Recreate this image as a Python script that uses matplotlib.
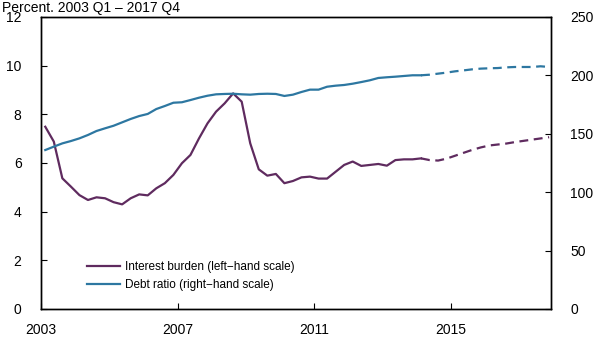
import numpy as np
import matplotlib
matplotlib.use("Agg")
import matplotlib.pyplot as plt

plt.rcParams['font.family'] = ['Liberation Sans', 'DejaVu Sans']

# Quarterly data, 2003 Q1 - 2017 Q4 (observed through 2014 Q1, projected after)
interest_burden = [
    7.49, 6.88, 5.37, 5.03,   # 2003
    4.68, 4.48, 4.59, 4.55,   # 2004
    4.39, 4.30, 4.55, 4.71,   # 2005
    4.67, 4.96, 5.17, 5.51,   # 2006
    5.99, 6.33, 7.01, 7.63,   # 2007
    8.11, 8.45, 8.86, 8.52,   # 2008
    6.81, 5.74, 5.48, 5.55,   # 2009
    5.17, 5.26, 5.41, 5.44,   # 2010
    5.36, 5.36, 5.64, 5.92,   # 2011
    6.06, 5.88, 5.92, 5.96,   # 2012
    5.89, 6.12, 6.15, 6.15,   # 2013
    6.19, 6.12, 6.10, 6.18,   # 2014
    6.30, 6.42, 6.54, 6.64,   # 2015
    6.72, 6.76, 6.80, 6.86,   # 2016
    6.91, 6.96, 7.01, 7.06,   # 2017
]
debt_ratio = [
    136.1, 139.0, 141.8, 143.8,   # 2003
    146.1, 149.0, 152.4, 154.7,   # 2004
    156.9, 159.8, 162.7, 165.2,   # 2005
    167.0, 171.2, 173.8, 176.6,   # 2006
    177.0, 178.9, 180.9, 182.6,   # 2007
    183.8, 184.1, 184.3, 183.8,   # 2008
    183.5, 184.1, 184.3, 184.1,   # 2009
    182.4, 183.5, 185.8, 187.8,   # 2010
    187.8, 190.3, 191.2, 191.8,   # 2011
    192.9, 194.3, 195.8, 197.8,   # 2012
    198.4, 198.9, 199.5, 200.1,   # 2013
    200.1, 200.6, 201.5, 202.4,   # 2014
    203.5, 204.3, 205.2, 205.8,   # 2015
    206.1, 206.3, 206.9, 207.2,   # 2016
    207.2, 207.2, 207.8, 207.2,   # 2017
]
last_observed = 44  # index of 2014 Q1

year_ticks = [2003, 2007, 2011, 2015]
left_ticks = [0, 2, 4, 6, 8, 10, 12]
right_ticks = [0, 50, 100, 150, 200, 250]

purple = "#5f2b5f"
blue = "#2d77a1"

n = len(interest_burden)
t = 2003 + (np.arange(n) + 0.5) / 4.0
ib = np.array(interest_burden)
dr = np.array(debt_ratio)
k = last_observed

fig = plt.figure(figsize=(5.93, 3.38), dpi=100)
ax = fig.add_axes([41 / 593, 1 - 309 / 338, 510 / 593, 292 / 338])
ax2 = ax.twinx()

lw = 1.6
ax.plot(t[:k + 1], ib[:k + 1], color=purple, lw=lw, label="Interest burden (left\u2212hand scale)")
ax.plot(t[k:], ib[k:], color=purple, lw=lw, dashes=(4, 2.5))
ax2.plot(t[:k + 1], dr[:k + 1], color=blue, lw=lw, label="Debt ratio (right\u2212hand scale)")
ax2.plot(t[k:], dr[k:], color=blue, lw=lw, dashes=(4, 2.5))

ax.set_xlim(2003, 2017.93)
ax.set_ylim(0, 12)
ax2.set_ylim(0, 250)
ax.set_xticks(year_ticks)
ax.set_yticks(left_ticks)
ax2.set_yticks(right_ticks)

for a in (ax, ax2):
    for s in a.spines.values():
        s.set_linewidth(1.0)
        s.set_color("black")

fs = 10
ax.tick_params(axis='x', direction='in', length=4, labelsize=fs, pad=10)
ax.tick_params(axis='y', direction='in', length=4, labelsize=fs, pad=14)
ax2.tick_params(axis='y', direction='in', length=4, labelsize=fs, pad=14)

h1, l1 = ax.get_legend_handles_labels()
h2, l2 = ax2.get_legend_handles_labels()
ax.legend(h1 + h2, l1 + l2, loc='lower left', bbox_to_anchor=(0.08, 0.045),
          frameon=False, fontsize=8.5, handlelength=2.8, handletextpad=0.5,
          labelspacing=0.5, borderaxespad=0)

fig.text(2 / 593, 1 - 1 / 338, "Percent. 2003 Q1 \u2013 2017 Q4", fontsize=10,
         ha='left', va='top')

fig.savefig("out.png", dpi=100)
